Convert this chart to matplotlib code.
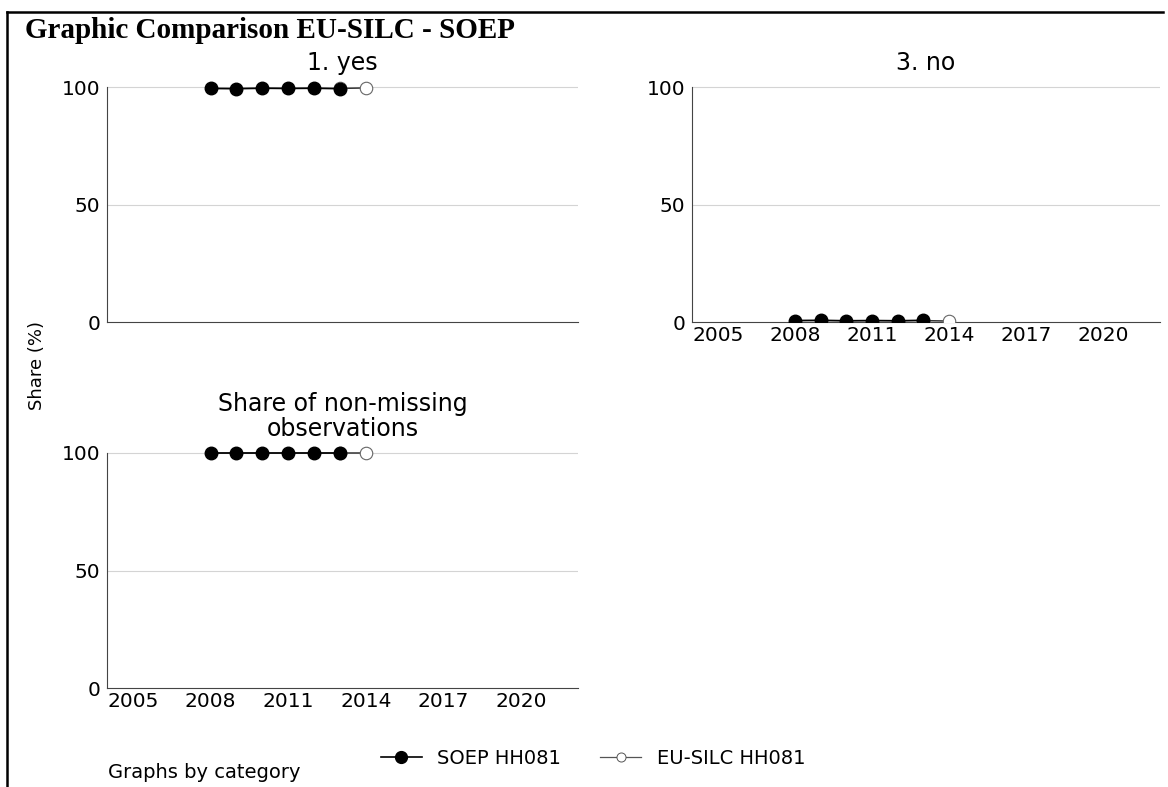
import numpy as np
import matplotlib
matplotlib.use("Agg")
import matplotlib.pyplot as plt
from matplotlib.lines import Line2D

# values
soep_years = [2008, 2009, 2010, 2011, 2012, 2013]
silc_years = [2013, 2014]
soep_yes = [99.4, 99.3, 99.5, 99.4, 99.5, 99.3]
silc_yes = [99.4, 99.6]
soep_no = [0.6, 0.7, 0.5, 0.6, 0.5, 0.7]
silc_no = [0.6, 0.4]
soep_nonmiss = [100, 100, 100, 100, 100, 100]
silc_nonmiss = [100, 100]
xticks = [2005, 2008, 2011, 2014, 2017, 2020]
yticks = [0, 50, 100]

plt.rcParams['font.family'] = ['DejaVu Sans']

fig = plt.figure(figsize=(11.68, 7.87), dpi=100)

W, H = 1168, 787
YTOP = 105
def box(l, t, r, b):
    # t = pixel row of y=100, b = pixel row of y=0
    t = t - (b - t) * (YTOP - 100) / 100
    return [l / W, 1 - b / H, (r - l) / W, (b - t) / H]

ax1 = fig.add_axes(box(107, 87, 578, 322))
ax2 = fig.add_axes(box(692, 87, 1160, 322))
ax3 = fig.add_axes(box(107, 453, 578, 688))

panels = [
    (ax1, soep_yes, silc_yes, "1. yes", False, 0),
    (ax2, soep_no, silc_no, "3. no", True, 0),
    (ax3, soep_nonmiss, silc_nonmiss, "Share of non-missing\nobservations", True, 2),
]

for ax, s, e, title, show_x, pad in panels:
    ax.plot(silc_years, e, color='#333333', lw=1.1, marker='o', ms=9,
            mfc='white', mec='#666666', mew=0.8, zorder=3)
    ax.plot(soep_years, s, color='black', lw=1.3, marker='o', ms=9,
            mfc='black', mec='black', zorder=4)
    ax.set_xlim(2004, 2022.2)
    ax.set_ylim(0, YTOP)
    ax.set_yticks(yticks)
    ax.set_xticks(xticks)
    for y in [50, 100]:
        ax.axhline(y, color='#d4d4d4', lw=0.8, zorder=0)
    for sp in ['top', 'right']:
        ax.spines[sp].set_visible(False)
    ax.spines['left'].set_bounds(0, 100)
    ax.spines['left'].set_color('#444444')
    ax.spines['bottom'].set_color('#444444')
    ax.tick_params(axis='x', length=0, labelsize=14.5, pad=3)
    ax.tick_params(axis='y', length=0, labelsize=14.5, pad=5)
    if not show_x:
        ax.set_xticklabels([])
    ax.set_title(title, fontsize=17, pad=pad, linespacing=1.05)

fig.text(37 / W, 1 - 365 / H, "Share (%)", rotation=90, fontsize=13,
         ha='center', va='center')

fig.text(25 / W, 1 - 38 / H, "Graphic Comparison EU-SILC - SOEP",
         family='Liberation Serif', fontweight='bold', fontsize=21,
         ha='left', va='baseline')

fig.text(108 / W, 1 - 772 / H, "Graphs by category", fontsize=14,
         ha='left', va='center')

handles = [
    Line2D([], [], color='black', lw=1.2, marker='o', ms=8.5, mfc='black', mec='black'),
    Line2D([], [], color='#555555', lw=0.9, marker='o', ms=6.5, mfc='white', mec='#555555', mew=0.7),
]
fig.legend(handles, ["SOEP HH081", "EU-SILC HH081"], loc='center',
           bbox_to_anchor=(593 / W, 1 - 758 / H), ncol=2, frameon=False,
           fontsize=14, handlelength=2.1, handletextpad=0.8, columnspacing=2.0)

# border lines on top and left
fig.add_artist(Line2D([7 / W, 1163 / W], [1 - 12 / H, 1 - 12 / H], color='black', lw=1.8,
                      transform=fig.transFigure))
fig.add_artist(Line2D([7 / W, 7 / W], [1 - 12 / H, 0], color='black', lw=1.8,
                      transform=fig.transFigure))

fig.savefig("out.png", dpi=100)
